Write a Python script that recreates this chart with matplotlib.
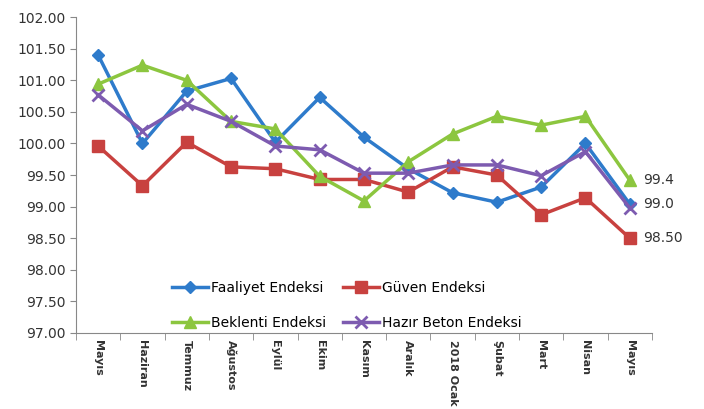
import numpy as np
import matplotlib.pyplot as plt

months = ['Mayıs', 'Haziran', 'Temmuz', 'Ağustos', 'Eylül', 'Ekim', 'Kasım',
          'Aralık', '2018 Ocak', 'Şubat', 'Mart', 'Nisan', 'Mayıs']

faaliyet = [101.40, 100.00, 100.83, 101.03, 100.02, 100.73, 100.10,
            99.60, 99.22, 99.07, 99.31, 100.00, 99.04]
guven = [99.96, 99.33, 100.02, 99.63, 99.60, 99.43, 99.43,
         99.23, 99.63, 99.50, 98.87, 99.14, 98.50]
beklenti = [100.94, 101.24, 101.00, 100.35, 100.23, 99.48, 99.09,
            99.71, 100.15, 100.43, 100.29, 100.43, 99.42]
hazir_beton = [100.77, 100.20, 100.62, 100.35, 99.96, 99.90, 99.53,
               99.53, 99.66, 99.66, 99.49, 99.87, 98.98]

end_labels = ['99.4', '99.0', '98.50']

plt.rcParams['font.family'] = ['DejaVu Sans']

fig = plt.figure(figsize=(7.04, 4.09), dpi=100)
ax = fig.add_axes([0.108, 0.186, 0.818, 0.772])

x = np.arange(len(months))

l1, = ax.plot(x, faaliyet, color='#2E7BCB', lw=2.5, marker='D', ms=6, label='Faaliyet Endeksi')
l2, = ax.plot(x, guven, color='#C8413F', lw=2.5, marker='s', ms=8, label='Güven Endeksi')
l3, = ax.plot(x, beklenti, color='#8CC63F', lw=2.5, marker='^', ms=8, label='Beklenti Endeksi')
l4, = ax.plot(x, hazir_beton, color='#7D5BB0', lw=2.5, marker='x', ms=8, mew=2, label='Hazır Beton Endeksi')

# end-of-series labels
ax.text(x[-1] + 0.3, beklenti[-1], end_labels[0], va='center', fontsize=10, color='#333333')
ax.text(x[-1] + 0.3, faaliyet[-1], end_labels[1], va='center', fontsize=10, color='#333333')
ax.text(x[-1] + 0.3, guven[-1], end_labels[2], va='center', fontsize=10, color='#333333')

ax.set_ylim(97, 102)
ax.set_yticks(np.arange(97, 102.01, 0.5))
ax.set_yticklabels([f'{v:.2f}' for v in np.arange(97, 102.01, 0.5)], fontsize=10, color='#333333')
ax.set_xlim(-0.5, len(months) - 0.5)
ax.set_xticks(x)
ax.set_xticklabels(months, rotation=-90, fontsize=8, fontweight='bold', color='#333333')
ax.set_xticks(np.arange(-0.5, len(months), 1), minor=True)
ax.tick_params(axis='x', which='major', length=0, pad=5)
ax.tick_params(axis='x', which='minor', length=5, color='#888888')
ax.tick_params(axis='y', length=4, color='#888888')

for s in ['top', 'right']:
    ax.spines[s].set_visible(False)
for s in ['left', 'bottom']:
    ax.spines[s].set_color('#888888')

# column-wise fill: row 1 = Faaliyet, Güven; row 2 = Beklenti, Hazır Beton
ax.legend([l1, l3, l2, l4], [l.get_label() for l in [l1, l3, l2, l4]],
          loc='lower left', ncol=2, frameon=False, fontsize=10,
          bbox_to_anchor=(0.145, -0.03), columnspacing=1.2, handlelength=2.6,
          handletextpad=0.2, labelspacing=1.5)

fig.savefig('out.png', dpi=100)
